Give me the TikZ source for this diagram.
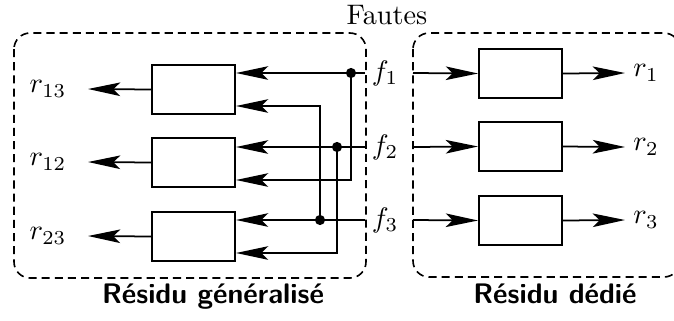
\documentclass[tikz,border=0pt]{standalone}
\usetikzlibrary{arrows.meta}
\begin{document}
\begin{tikzpicture}[x=0.354pt,y=-0.354pt,
  wire/.style={line width=0.62pt},
  arr/.style={wire,-{Stealth[length=11.4pt,width=4.8pt,inset=2.4pt]}},
  blk/.style={draw,line width=0.71pt,minimum width=83*0.354pt,minimum height=49*0.354pt,inner sep=0pt},
  grp/.style={draw,line width=0.57pt,rounded corners=5.7pt,dash pattern=on 2.85pt off 1.8pt},
  dot/.style={circle,fill,inner sep=0pt,minimum size=3.6pt},
  lbl/.style={inner sep=1pt},
  captxt/.style={font=\sffamily\bfseries,anchor=base}]
\useasboundingbox (0,0) rectangle (674,320);
% groups
\draw[grp] (14,33) rectangle (366,278);
\draw[grp] (413,33) rectangle (680,277);
% left blocks
\node[blk] (L1) at (193.5,89.5) {};
\node[blk] (L2) at (193.5,162.5) {};
\node[blk] (L3) at (193.5,236.5) {};
% right blocks
\node[blk] (R1) at (520.5,73.5) {};
\node[blk] (R2) at (520.5,146.5) {};
\node[blk] (R3) at (520.5,220.5) {};
% labels
\node[lbl] (f1) at (385,73) {$f_1$};
\node[lbl] (f2) at (385,147) {$f_2$};
\node[lbl] (f3) at (385,220) {$f_3$};
\node[lbl] (r13) at (48,89) {$r_{13}$};
\node[lbl] (r12) at (48,162) {$r_{12}$};
\node[lbl] (r23) at (48,236) {$r_{23}$};
\node[lbl] (r1) at (646,73) {$r_1$};
\node[lbl] (r2) at (646,147) {$r_2$};
\node[lbl] (r3) at (646,220) {$r_3$};
\node (fautes) at (387,15) {Fautes};
\node[captxt] (cg) at (213,303) {Résidu généralisé};
\node[captxt] (cd) at (555,303) {Résidu dédié};
% coordinates
\coordinate (s1) at (365,73);
\coordinate (s2) at (365,147);
\coordinate (s3) at (365,220);
\node[dot] (d1) at (351,73) {};
\node[dot] (d2) at (337,147) {};
\node[dot] (d3) at (320,220) {};
\coordinate (q1) at (413,73);
\coordinate (q2) at (413,147);
\coordinate (q3) at (413,220);
\coordinate (o1) at (88,89);
\coordinate (o2) at (88,162);
\coordinate (o3) at (88,236);
\coordinate (p1) at (625,73);
\coordinate (p2) at (625,147);
\coordinate (p3) at (625,220);
% left side wires
\draw[arr] (s1) -- (L1.east |- s1);
\draw[arr] (s2) -- (L2.east |- s2);
\draw[arr] (s3) -- (L3.east |- s3);
\draw[arr] (d1.center) |- (L2.east |- 0,180);
\draw[arr] (d2.center) |- (L3.east |- 0,253);
\draw[arr] (d3.center) |- (L1.east |- 0,106);
\draw[arr] (L1.west) -- (o1);
\draw[arr] (L2.west) -- (o2);
\draw[arr] (L3.west) -- (o3);
% right side wires
\draw[arr] (q1) -- (R1.west);
\draw[arr] (q2) -- (R2.west);
\draw[arr] (q3) -- (R3.west);
\draw[arr] (R1.east) -- (p1);
\draw[arr] (R2.east) -- (p2);
\draw[arr] (R3.east) -- (p3);
\end{tikzpicture}
\end{document}
